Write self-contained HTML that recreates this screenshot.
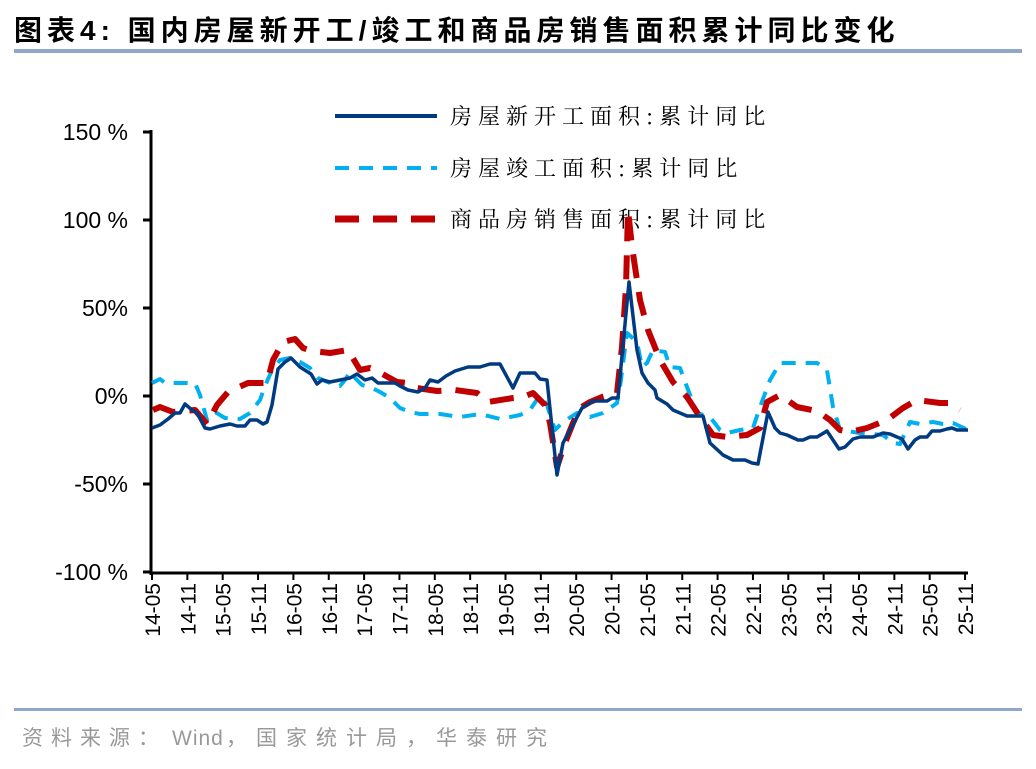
<!DOCTYPE html>
<html><head><meta charset="utf-8"><style>
body{margin:0;width:1036px;height:764px;background:#fff;overflow:hidden;font-family:"Liberation Sans","Noto Sans CJK SC",sans-serif}
</style></head><body>
<svg width="1036" height="764" xmlns="http://www.w3.org/2000/svg">
<text x="14" y="40" font-family="Liberation Sans,'Noto Sans CJK SC',sans-serif" font-weight="bold" font-size="28" letter-spacing="5" fill="#000">图表4:  国内房屋新开工/竣工和商品房销售面积累计同比变化</text>
<rect x="14" y="49" width="1008" height="4" fill="#8fa8c8"/>
<rect x="14" y="708" width="1008" height="3" fill="#8fa8c8"/>
<text y="745" font-size="21" fill="#999" font-family="Liberation Sans,'Noto Sans CJK SC',sans-serif"><tspan x="22" letter-spacing="8">资料来源：</tspan><tspan x="172" letter-spacing="1">Wind</tspan><tspan x="226" letter-spacing="9">，国家统计局，华泰研究</tspan></text>
<g stroke="#000" stroke-width="3" fill="none">
<line x1="151" y1="130" x2="151" y2="575"/>
<line x1="150" y1="573" x2="968" y2="573"/>
<line x1="143" y1="132" x2="151" y2="132"/><line x1="143" y1="220" x2="151" y2="220"/><line x1="143" y1="308" x2="151" y2="308"/><line x1="143" y1="396" x2="151" y2="396"/><line x1="143" y1="484" x2="151" y2="484"/><line x1="143" y1="572" x2="151" y2="572"/>
</g>
<g font-size="23" text-anchor="end" fill="#000">
<text x="128" y="140">150 %</text><text x="128" y="228">100 %</text><text x="128" y="316">50%</text><text x="128" y="404">0%</text><text x="128" y="492">-50%</text><text x="128" y="580">-100 %</text>
</g>
<g id="xt" font-size="21" fill="#000"></g>
<g font-family="'Noto Serif CJK SC',serif" font-size="22" fill="#000" letter-spacing="6">
<line x1="335" y1="116" x2="437" y2="116" stroke="#003a80" stroke-width="4"/>
<text x="450" y="124">房屋新开工面积:累计同比</text>
<line x1="335" y1="168" x2="437" y2="168" stroke="#00b0f0" stroke-width="4" stroke-dasharray="14,10"/>
<text x="450" y="176">房屋竣工面积:累计同比</text>
<line x1="335" y1="219" x2="437" y2="219" stroke="#c00000" stroke-width="7" stroke-dasharray="24,14"/>
<text x="450" y="227">商品房销售面积:累计同比</text>
</g>
<polyline fill="none" stroke="#00b0f0" stroke-width="4" stroke-dasharray="14,10" stroke-linejoin="round" points="152,383 160,379 165,383 195,383 200,395 207,420 215,412 225,418 240,419 250,413 260,400 265,386 272,370 280,360 290,358 300,362 310,368 318,378 330,383 340,386 345,380 350,372 355,378 362,385 370,387 380,392 390,398 400,408 410,412 420,414 440,414 460,417 480,414 500,419 520,415 530,410 540,395 547,405 555,430 563,422 577,413 590,417 603,413 617,403 620,387 627,333 637,342 642,367 647,363 653,350 665,352 670,367 680,368 687,387 697,413 710,417 720,430 727,433 740,430 753,428 760,407 770,380 780,363 817,363 827,370 833,407 840,430 860,433 883,435 893,443 900,444 910,422 920,424 933,422 943,424 953,423 968,430"/>
<polyline fill="none" stroke="#c00000" stroke-width="6" stroke-dasharray="24,14" stroke-linejoin="round" points="153,410 160,407 173,412 195,410 207,424 217,405 228,392 248,383 267,383 273,360 283,342 295,339 303,348 312,351 330,353 348,350 360,370 370,368 377,371 397,382 407,383 417,388 437,391 455,390 477,393 488,402 513,398 523,397 533,393 545,405 550,423 557,467 565,443 573,423 580,408 590,402 602,397 617,393 622,347 626,287 628,210 632,247 640,300 648,330 660,360 673,382 687,397 700,417 713,435 727,437 747,435 760,428 767,402 780,395 797,407 817,411 830,420 840,430 850,432 867,428 887,420 903,408 917,400 940,403 950,403 960,410"/>
<polyline fill="none" stroke="#003a80" stroke-width="3.5" stroke-linejoin="round" points="152,428 160,425 168,419 175,413 180,413 185,404 192,410 197,413 205,428 210,429 220,426 230,424 237,426 245,426 250,420 257,420 263,424 267,422 272,405 278,369 285,362 291,358 300,367 311,374 317,384 322,380 330,382 340,380 350,378 357,374 365,380 372,378 378,383 395,383 400,386 408,390 418,392 425,388 430,380 438,382 446,376 455,371 468,367 480,367 490,364 500,364 513,388 520,373 535,373 540,379 547,380 557,475 563,443 582,408 593,401 607,401 612,398 618,398 629,282 637,350 642,373 648,383 655,390 657,398 667,404 673,410 687,416 698,416 703,416 710,443 723,455 733,460 745,460 752,463 758,464 768,412 775,428 780,433 787,435 798,440 803,440 810,437 817,437 827,431 839,449 845,447 853,439 860,437 873,437 883,433 890,434 897,437 902,439 908,449 915,440 920,437 927,437 932,431 940,431 947,429 952,428 957,430 968,430"/>
</svg>
<script>
var g=document.getElementById('xt'),ns='http://www.w3.org/2000/svg';
var labs=['14-05','14-11','15-05','15-11','16-05','16-11','17-05','17-11','18-05','18-11','19-05','19-11','20-05','20-11','21-05','21-11','22-05','22-11','23-05','23-11','24-05','24-11','25-05','25-11'];
for(var i=0;i<labs.length;i++){var x=152+i*35.35;
var l=document.createElementNS(ns,'line');l.setAttribute('x1',x);l.setAttribute('x2',x);l.setAttribute('y1',573);l.setAttribute('y2',580);l.setAttribute('stroke','#000');l.setAttribute('stroke-width','2');g.appendChild(l);
var t=document.createElementNS(ns,'text');t.setAttribute('transform','translate('+(x+8)+',583) rotate(-90)');t.setAttribute('text-anchor','end');t.textContent=labs[i];g.appendChild(t);}
</script>
</body></html>
